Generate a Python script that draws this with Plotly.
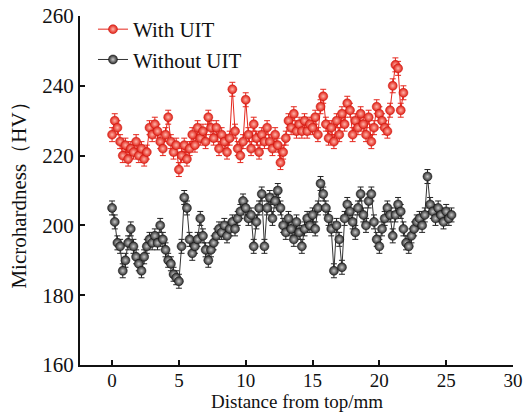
import plotly.graph_objects as go

step = 0.2
with_uit = [226, 230, 228, 224, 220, 223, 219, 222, 221, 224, 220, 222, 219, 221, 228, 226, 229, 227, 224, 222,
            226, 231, 224, 221, 223, 216, 220, 223, 219, 222, 226, 223, 228, 225, 227, 224, 231, 228, 225, 228,
            222, 226, 224, 221, 225, 239, 227, 222, 220, 224, 236, 226, 222, 229, 225, 221, 226, 224, 228, 224,
            222, 226, 223, 218, 221, 225, 230, 228, 232, 227, 229, 227, 230, 227, 229, 228, 231, 226, 234, 237,
            229, 225, 228, 224, 230, 226, 232, 229, 235, 233, 226, 230, 228, 232, 229, 226, 231, 224, 228, 234,
            232, 230, 228, 227, 233, 240, 246, 245, 233, 238]
without_uit = [205, 201, 195, 194, 187, 190, 195, 199, 194, 191, 189, 187, 191, 194, 196, 195, 197, 195, 200, 196,
               193, 190, 189, 186, 185, 184, 194, 208, 205, 196, 192, 194, 196, 202, 197, 193, 190, 193, 195, 197,
               199, 198, 200, 197, 199, 201, 199, 202, 204, 207, 205, 202, 203, 194, 201, 205, 209, 194, 205, 208,
               202, 207, 210, 205, 200, 198, 202, 199, 196, 201, 198, 194, 199, 202, 200, 203, 199, 205, 212, 209,
               205, 202, 199, 187, 200, 196, 188, 202, 206, 204, 201, 198, 205, 209, 203, 200, 207, 209, 201, 196,
               194, 199, 202, 205, 203, 197, 203, 206, 204, 199, 195, 194, 197, 199, 201, 202, 200, 203, 214, 206,
               204, 202, 205, 203, 201, 204, 202, 203]
err = 2

x_with = [round(i * step, 1) for i in range(len(with_uit))]
x_without = [round(i * step, 1) for i in range(len(without_uit))]

font = "Liberation Serif, Times New Roman, serif"

fig = go.Figure()
fig.add_trace(go.Scatter(
    x=x_with, y=with_uit, name="With UIT", mode="lines+markers",
    line=dict(color="#e5261c", width=1),
    marker=dict(size=9, color="#e01e14", gradient=dict(type="radial", color="#ffb4a8"),
                line=dict(color="#c81810", width=0.5)),
    error_y=dict(type="constant", value=err, color="#e5261c", thickness=1, width=3),
))
fig.add_trace(go.Scatter(
    x=x_without, y=without_uit, name="Without UIT", mode="lines+markers",
    line=dict(color="#333333", width=1),
    marker=dict(size=9, color="#2a2a2a", gradient=dict(type="radial", color="#c8c8c8"),
                line=dict(color="#111111", width=0.5)),
    error_y=dict(type="constant", value=err, color="#222222", thickness=1, width=3),
))

fig.update_layout(
    width=523, height=412,
    margin=dict(l=80, r=10, t=16, b=47, autoexpand=False),
    paper_bgcolor="white", plot_bgcolor="white",
    font=dict(family=font, size=20, color="#111111"),
    showlegend=True,
    legend=dict(x=0.03, y=1.02, xanchor="left", yanchor="top", bgcolor="rgba(0,0,0,0)",
                font=dict(family=font, size=21), tracegroupgap=0, itemwidth=30),
    xaxis=dict(range=[-2.4, 30], tickvals=[0, 5, 10, 15, 20, 25, 30], ticks="inside", ticklen=5,
               showline=True, linecolor="#111111", linewidth=2, tickcolor="#111111", tickwidth=1.5,
               showgrid=False, zeroline=False, mirror=False, tickfont=dict(size=19),
               ticklabelstandoff=-3,
               automargin=False, ticklabeloverflow="allow"),
    yaxis=dict(range=[160, 260], tickvals=[160, 180, 200, 220, 240, 260], ticks="inside", ticklen=5,
               showline=True, linecolor="#111111", linewidth=2, tickcolor="#111111", tickwidth=1.5,
               showgrid=False, zeroline=False, mirror=False, tickfont=dict(size=21),
               automargin=False, ticklabeloverflow="allow"),
    annotations=[
        dict(text="Distance from top/mm", xref="paper", yref="paper", x=0.5, y=-0.138,
             xanchor="center", yanchor="bottom", showarrow=False, borderpad=0,
             font=dict(family=font, size=19)),
        dict(text="Microhardness（HV）", xref="paper", yref="paper", x=-0.143, y=0.5,
             xanchor="center", yanchor="middle", textangle=-90, showarrow=False,
             font=dict(family=font, size=21)),
    ],
)

fig.write_html("out.html")
